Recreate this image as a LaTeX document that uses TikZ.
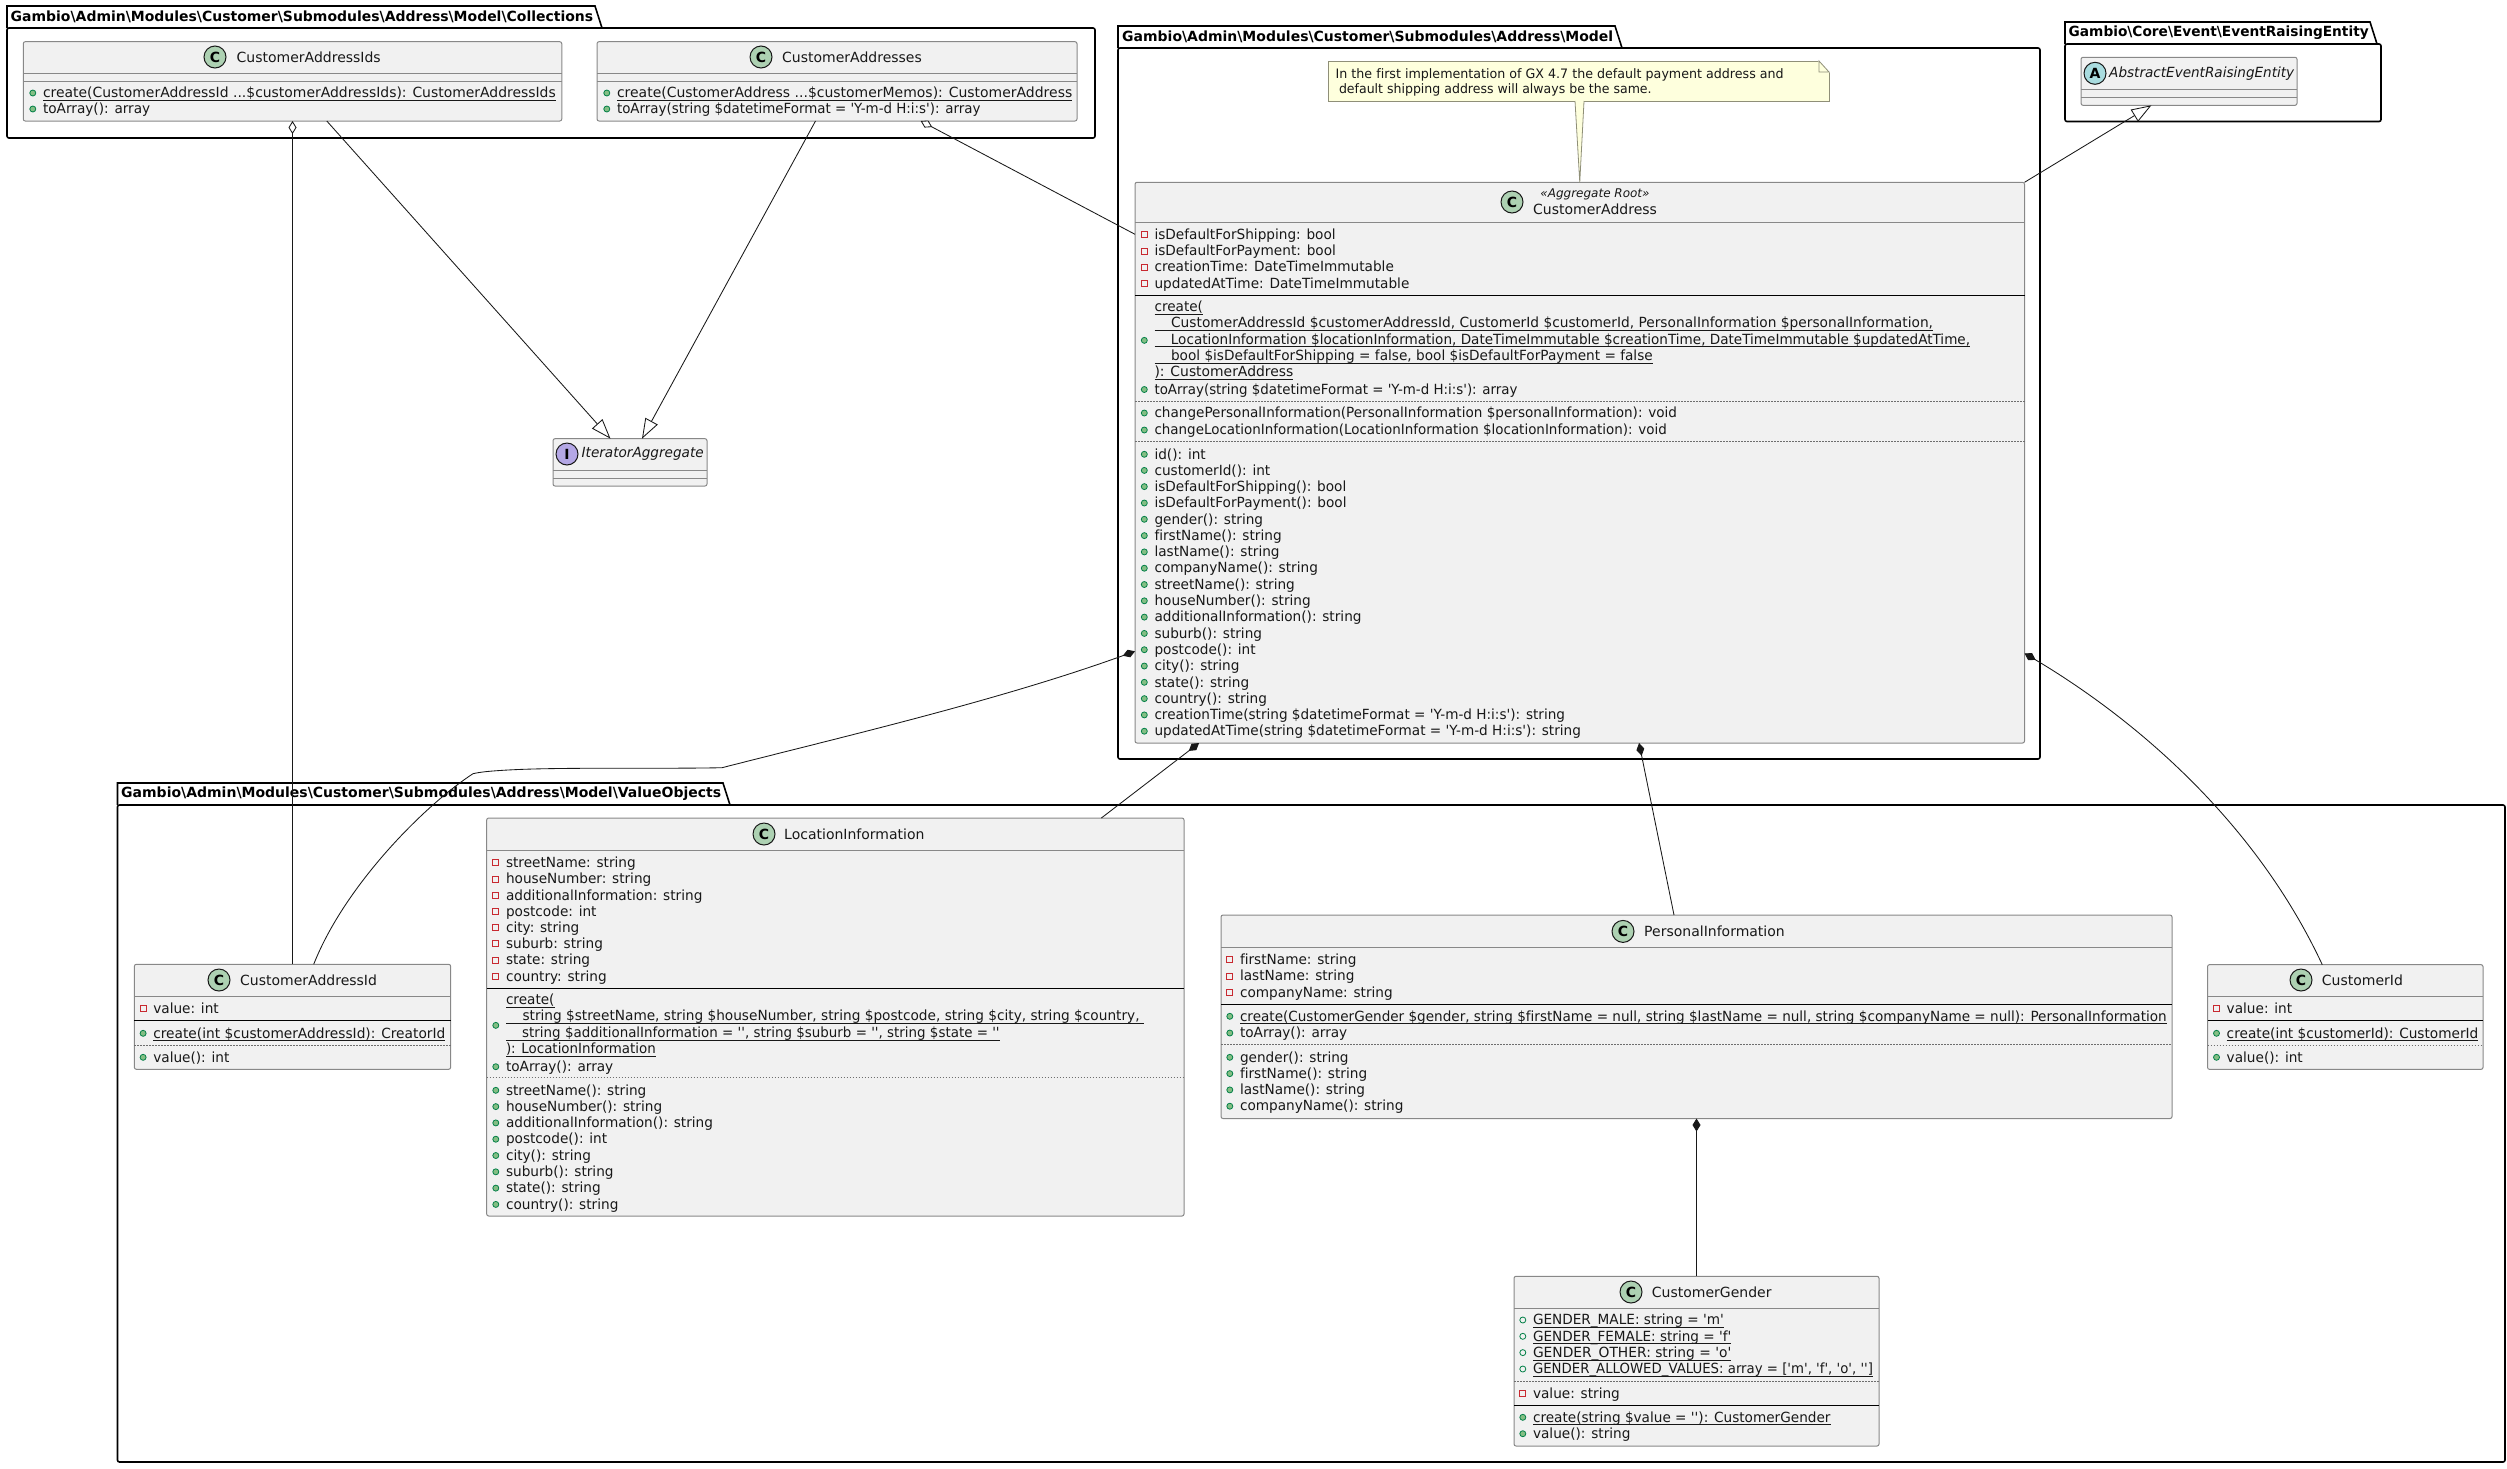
\documentclass[tikz,border=0pt]{standalone}
\usepackage{fontspec}
\usepackage{graphicx}
\usetikzlibrary{arrows.meta}
\newfontfamily\umlfont{DejaVu Sans}[Ligatures=NoCommon]
\newfontfamily\rowfont{DejaVu Sans}[Ligatures=NoCommon,FakeStretch=0.975]
\definecolor{boxfill}{HTML}{F1F1F1}
\definecolor{boxline}{HTML}{888888}
\definecolor{inkline}{HTML}{181818}
\definecolor{sepdots}{HTML}{6E6E6E}
\definecolor{notefill}{HTML}{FEFFDD}
\definecolor{noteline}{HTML}{8F8F78}
\definecolor{dotgreen}{HTML}{84BE84}
\definecolor{dotedge}{HTML}{038048}
\definecolor{privred}{HTML}{C82930}
\definecolor{iconC}{HTML}{ADD1B2}
\definecolor{iconI}{HTML}{B4A7E5}
\definecolor{iconA}{HTML}{A9DCDF}
\newsavebox\ulbox
\newcommand{\ul}[1]{\sbox\ulbox{#1}\rlap{\rule[-3.2pt]{\wd\ulbox}{0.9pt}}\usebox\ulbox}
\newcommand{\rowfit}[2]{\resizebox{#1pt}{\height}{#2}}
\newcommand{\ind}{\hspace*{16.5pt}}
\newcommand{\bs}{\textbackslash}
\tikzset{
  every node/.style={font=\umlfont\fontsize{14}{16.3}\selectfont,text=inkline},
  pkgframe/.style={draw=black,line width=1.6pt,rounded corners=2pt},
  pkgtab/.style={draw=black,line width=1.6pt},
  pkgtitle/.style={anchor=west,inner sep=0pt,font=\umlfont\bfseries\fontsize{14}{16.3}\selectfont,text=black},
  classbox/.style={draw=boxline,fill=boxfill,line width=1pt,rounded corners=2pt,inner sep=0pt,outer sep=0pt},
  hdrline/.style={draw=boxline,line width=1pt},
  splitline/.style={draw=black,line width=1pt},
  dotsep/.style={draw=sepdots,line width=0.9pt,dash pattern=on 1.5pt off 1.5pt},
  classicon/.style={circle,draw=inkline,line width=1pt,minimum size=22pt,inner sep=0pt,font=\umlfont\bfseries\fontsize{14}{16.3}\selectfont,text=black},
  classname/.style={anchor=west,inner sep=0pt},
  member/.style={anchor=west,inner sep=0pt,outer sep=0pt,text height=11.5pt,text depth=2pt,font=\rowfont\fontsize{14}{16.3}\selectfont},
  pubmark/.style={circle,draw=dotedge,fill=dotgreen,line width=0.8pt,minimum size=6pt,inner sep=0pt,label distance=6.8pt},
  pubfield/.style={circle,draw=dotedge,line width=0.8pt,minimum size=6pt,inner sep=0pt,label distance=6.8pt},
  privmark/.style={rectangle,draw=privred,line width=0.9pt,minimum size=6pt,inner sep=0pt,label distance=6.8pt},
  pubrow/.style={member,label={[pubmark]left:{}}},
  fieldrow/.style={member,label={[pubfield]left:{}}},
  privrow/.style={member,label={[privmark]left:{}}},
  longrow/.style={anchor=west,inner sep=0pt,outer sep=0pt,align=left,font=\rowfont\fontsize{14}{16.4}\selectfont,label={[pubmark]left:{}}},
  notebox/.style={draw=noteline,fill=notefill,line width=0.8pt,inner sep=0pt,outer sep=0pt},
  notetext/.style={anchor=west,inner sep=0pt,align=left,font=\umlfont\fontsize{13}{15}\selectfont},
  relline/.style={draw=inkline,line width=0.85pt},
  extends/.style={relline,-{Triangle[fill=white,length=20pt,width=14pt]}},
  aggregate/.style={relline,{Diamond[fill=white,length=13pt,width=8pt]}-},
  compose/.style={relline,{Diamond[fill=inkline,length=13pt,width=8pt]}-},
}
\begin{document}
\begin{tikzpicture}[x=1pt,y=-1pt]
\useasboundingbox (0,0) rectangle (2507,1468);
\draw[pkgtab] (7,28) -- (7,6) -- (595,6) -- (602,28);
\draw[pkgframe] (7,28) rectangle (1095,138);
\node[pkgtitle] (pkgCollections) at (10.5,17) {\rowfit{582.5}{Gambio\bs{}Admin\bs{}Modules\bs{}Customer\bs{}Submodules\bs{}Address\bs{}Model\bs{}Collections}};
\draw[pkgtab] (1118,48) -- (1118,26) -- (1615,26) -- (1622,48);
\draw[pkgframe] (1118,48) rectangle (2040,759);
\node[pkgtitle] (pkgModel) at (1122,37) {\rowfit{491}{Gambio\bs{}Admin\bs{}Modules\bs{}Customer\bs{}Submodules\bs{}Address\bs{}Model}};
\draw[pkgtab] (2065,44) -- (2065,22) -- (2370,22) -- (2377,44);
\draw[pkgframe] (2065,44) rectangle (2381,121.5);
\node[pkgtitle] (pkgEvent) at (2068.5,33) {\rowfit{300}{Gambio\bs{}Core\bs{}Event\bs{}EventRaisingEntity}};
\draw[pkgtab] (117.5,805) -- (117.5,783) -- (723,783) -- (730,805);
\draw[pkgframe] (117.5,805) rectangle (2505,1462);
\node[pkgtitle] (pkgValues) at (121,794) {\rowfit{600}{Gambio\bs{}Admin\bs{}Modules\bs{}Customer\bs{}Submodules\bs{}Address\bs{}Model\bs{}ValueObjects}};

\node[classbox,minimum width=538.5pt,minimum height=79.3pt] (addressIds) at (292.5,81.35) {};
\draw[hdrline] (addressIds.west |- 0,73) -- (addressIds.east |- 0,73);
\draw[hdrline] (addressIds.west |- 0,81) -- (addressIds.east |- 0,81);
\node[classicon,fill=iconC] (addressIdsIcon) at (215,57) {C};
\node[classname] (addressIdsName) at (236.5,57) {CustomerAddressIds};
\node[pubrow] (addressIdsCreate) at (43,93) {\rowfit{512.8}{\ul{create(CustomerAddressId ...\$customerAddressIds): CustomerAddressIds}}};
\node[pubrow] (addressIdsArray) at (43,109) {toArray(): array};

\node[classbox,minimum width=480pt,minimum height=79.3pt] (addresses) at (837,81.35) {};
\draw[hdrline] (addresses.west |- 0,73) -- (addresses.east |- 0,73);
\draw[hdrline] (addresses.west |- 0,81) -- (addresses.east |- 0,81);
\node[classicon,fill=iconC] (addressesIcon) at (761,57) {C};
\node[classname] (addressesName) at (782,57) {CustomerAddresses};
\node[pubrow] (addressesCreate) at (617,93) {\rowfit{455.3}{\ul{create(CustomerAddress ...\$customerMemos): CustomerAddress}}};
\node[pubrow] (addressesArray) at (617,109) {\rowfit{363.4}{toArray(string \$datetimeFormat = 'Y-m-d H:i:s'): array}};

\node[classbox,minimum width=154pt,minimum height=47.3pt] (iterator) at (630,462.35) {};
\draw[hdrline] (iterator.west |- 0,470) -- (iterator.east |- 0,470);
\draw[hdrline] (iterator.west |- 0,478) -- (iterator.east |- 0,478);
\node[classicon,fill=iconI] (iteratorIcon) at (567,454) {I};
\node[classname] (iteratorName) at (581.5,454) {\rowfit{122}{\itshape IteratorAggregate}};

\node[notebox,minimum width=501pt,minimum height=40pt] (note) at (1578.5,81) {};
\fill[white] (1817,60) -- (1830,60) -- (1830,73) -- cycle;
\draw[notebox] (1819,61) -- (1829,72) -- (1819,72) -- cycle;
\node[notetext] (noteText) at (1335.5,82) {\rowfit{448}{In the first implementation of GX 4.7 the default payment address and}\\\hspace*{3.3pt}\rowfit{312.6}{default shipping address will always be the same.}};

\node[classbox,minimum width=889.5pt,minimum height=560.7pt] (address) at (1579.75,462.65) {};
\fill[notefill] ([xshift=-3.5pt]note.south) -- ([xshift=5.5pt]note.south) -- (address.north) -- cycle;
\draw[noteline,line width=0.8pt] ([xshift=-3.5pt]note.south) -- (address.north) -- ([xshift=5.5pt]note.south);
\draw[hdrline] (address.west |- 0,222) -- (address.east |- 0,222);
\draw[splitline] (address.west |- 0,295.3) -- (address.east |- 0,295.3);
\draw[dotsep] (address.west |- 0,401.3) -- (address.east |- 0,401.3);
\draw[dotsep] (address.west |- 0,441.3) -- (address.east |- 0,441.3);
\node[classicon,fill=iconC] (addressIcon) at (1512,202) {C};
\node[inner sep=0pt,font=\umlfont\itshape\fontsize{12}{14}\selectfont] (addressStereo) at (1595,194) {«Aggregate Root»};
\node[classname] (addressName) at (1533,209.5) {CustomerAddress};
\node[privrow] (addressA) at (1154.5,234.5) {isDefaultForShipping: bool};
\node[privrow] (addressB) at (1154.5,251) {isDefaultForPayment: bool};
\node[privrow] (addressC) at (1154.5,267) {creationTime: DateTimeImmutable};
\node[privrow] (addressD) at (1154.5,283.5) {updatedAtTime: DateTimeImmutable};
\node[longrow] (addressCreate) at (1154.5,340.35) {\rowfit{48.5}{\ul{create(}}\\\rowfit{778.5}{\ul{\ind CustomerAddressId \$customerAddressId, CustomerId \$customerId, PersonalInformation \$personalInformation,}}\\\rowfit{815.5}{\ul{\ind LocationInformation \$locationInformation, DateTimeImmutable \$creationTime, DateTimeImmutable \$updatedAtTime,}}\\\rowfit{498.2}{\ul{\ind bool \$isDefaultForShipping = false, bool \$isDefaultForPayment = false}}\\\rowfit{138.8}{\ul{): CustomerAddress}}};
\node[pubrow] (addressArray) at (1154.5,389.5) {\rowfit{363}{toArray(string \$datetimeFormat = 'Y-m-d H:i:s'): array}};
\node[pubrow] (addressE) at (1154.5,413) {\rowfit{522.5}{changePersonalInformation(PersonalInformation \$personalInformation): void}};
\node[pubrow] (addressF) at (1154.5,430) {\rowfit{512.2}{changeLocationInformation(LocationInformation \$locationInformation): void}};
\node[pubrow] (addressG) at (1154.5,454.3) {id(): int};
\node[pubrow] (addressH) at (1154.5,470.4) {customerId(): int};
\node[pubrow] (addressI) at (1154.5,486.6) {isDefaultForShipping(): bool};
\node[pubrow] (addressJ) at (1154.5,503) {isDefaultForPayment(): bool};
\node[pubrow] (addressK) at (1154.5,519.3) {gender(): string};
\node[pubrow] (addressL) at (1154.5,535.6) {firstName(): string};
\node[pubrow] (addressM) at (1154.5,551.9) {lastName(): string};
\node[pubrow] (addressN) at (1154.5,568.2) {companyName(): string};
\node[pubrow] (addressO) at (1154.5,584.5) {streetName(): string};
\node[pubrow] (addressP) at (1154.5,600.8) {houseNumber(): string};
\node[pubrow] (addressQ) at (1154.5,617.1) {additionalInformation(): string};
\node[pubrow] (addressR) at (1154.5,633.4) {suburb(): string};
\node[pubrow] (addressS) at (1154.5,649.7) {postcode(): int};
\node[pubrow] (addressT) at (1154.5,666) {city(): string};
\node[pubrow] (addressU) at (1154.5,682.3) {state(): string};
\node[pubrow] (addressV) at (1154.5,698.6) {country(): string};
\node[pubrow] (addressW) at (1154.5,714.9) {\rowfit{410.5}{creationTime(string \$datetimeFormat = 'Y-m-d H:i:s'): string}};
\node[pubrow] (addressX) at (1154.5,731.2) {\rowfit{426.4}{updatedAtTime(string \$datetimeFormat = 'Y-m-d H:i:s'): string}};

\node[classbox,minimum width=216pt,minimum height=48pt] (raising) at (2189,81.3) {};
\draw[hdrline] (raising.west |- 0,89.3) -- (raising.east |- 0,89.3);
\draw[hdrline] (raising.west |- 0,97.3) -- (raising.east |- 0,97.3);
\node[classicon,fill=iconA] (raisingIcon) at (2095,73.3) {A};
\node[classname] (raisingName) at (2109,73.3) {\rowfit{185}{\itshape AbstractEventRaisingEntity}};

\node[classbox,minimum width=316.3pt,minimum height=105pt] (addressId) at (292.5,1016.8) {};
\draw[hdrline] (addressId.west |- 0,996.7) -- (addressId.east |- 0,996.7);
\draw[splitline] (addressId.west |- 0,1020.3) -- (addressId.east |- 0,1020.3);
\draw[dotsep] (addressId.west |- 0,1045.3) -- (addressId.east |- 0,1045.3);
\node[classicon,fill=iconC] (addressIdIcon) at (219,980) {C};
\node[classname] (addressIdName) at (240,980) {CustomerAddressId};
\node[privrow] (addressIdValue) at (153.3,1008.3) {value: int};
\node[pubrow] (addressIdCreate) at (153.3,1033.3) {\rowfit{292}{\ul{create(int \$customerAddressId): CreatorId}}};
\node[pubrow] (addressIdGet) at (153.3,1057.3) {value(): int};

\node[classbox,minimum width=697.3pt,minimum height=398pt] (location) at (835.35,1017) {};
\draw[hdrline] (location.west |- 0,850.7) -- (location.east |- 0,850.7);
\draw[splitline] (location.west |- 0,988.3) -- (location.east |- 0,988.3);
\draw[dotsep] (location.west |- 0,1077.3) -- (location.east |- 0,1077.3);
\node[classicon,fill=iconC] (locationIcon) at (764,834) {C};
\node[classname] (locationName) at (784,834) {LocationInformation};
\node[privrow] (locationA) at (506,862.7) {streetName: string};
\node[privrow] (locationB) at (506,879) {houseNumber: string};
\node[privrow] (locationC) at (506,895.3) {additionalInformation: string};
\node[privrow] (locationD) at (506,911.3) {postcode: int};
\node[privrow] (locationE) at (506,927.6) {city: string};
\node[privrow] (locationF) at (506,943.9) {suburb: string};
\node[privrow] (locationG) at (506,960.2) {state: string};
\node[privrow] (locationH) at (506,976.5) {country: string};
\node[longrow] (locationCreate) at (506,1025.35) {\rowfit{48.5}{\ul{create(}}\\\rowfit{638}{\ul{\ind string \$streetName, string \$houseNumber, string \$postcode, string \$city, string \$country,\hspace*{4.4pt}}}\\\rowfit{493.6}{\ul{\ind string \$additionalInformation = '', string \$suburb = '', string \$state = ''}}\\\rowfit{149.8}{\ul{): LocationInformation}}};
\node[pubrow] (locationArray) at (506,1066.7) {toArray(): array};
\node[pubrow] (locationI) at (506,1090.3) {streetName(): string};
\node[pubrow] (locationJ) at (506,1106.6) {houseNumber(): string};
\node[pubrow] (locationK) at (506,1122.9) {additionalInformation(): string};
\node[pubrow] (locationL) at (506,1139.2) {postcode(): int};
\node[pubrow] (locationM) at (506,1155.5) {city(): string};
\node[pubrow] (locationN) at (506,1171.8) {suburb(): string};
\node[pubrow] (locationO) at (506,1188.1) {state(): string};
\node[pubrow] (locationP) at (506,1204.4) {country(): string};

\node[classbox,minimum width=951pt,minimum height=203.5pt] (personal) at (1696.5,1016.75) {};
\draw[hdrline] (personal.west |- 0,947.5) -- (personal.east |- 0,947.5);
\draw[splitline] (personal.west |- 0,1004) -- (personal.east |- 0,1004);
\draw[dotsep] (personal.west |- 0,1044.5) -- (personal.east |- 0,1044.5);
\node[classicon,fill=iconC] (personalIcon) at (1623,931.4) {C};
\node[classname] (personalName) at (1644,931.4) {PersonalInformation};
\node[privrow] (personalA) at (1240,959.7) {firstName: string};
\node[privrow] (personalB) at (1240,976) {lastName: string};
\node[privrow] (personalC) at (1240,992.3) {companyName: string};
\node[pubrow] (personalCreate) at (1240,1016.3) {\rowfit{926.7}{\ul{create(CustomerGender \$gender, string \$firstName = null, string \$lastName = null, string \$companyName = null): PersonalInformation}}};
\node[pubrow] (personalArray) at (1240,1033) {toArray(): array};
\node[pubrow] (personalD) at (1240,1057.3) {gender(): string};
\node[pubrow] (personalE) at (1240,1073.6) {firstName(): string};
\node[pubrow] (personalF) at (1240,1089.9) {lastName(): string};
\node[pubrow] (personalG) at (1240,1106.2) {companyName(): string};

\node[classbox,minimum width=275.5pt,minimum height=104.7pt] (customerId) at (2345.25,1017) {};
\draw[hdrline] (customerId.west |- 0,996.7) -- (customerId.east |- 0,996.7);
\draw[splitline] (customerId.west |- 0,1020.3) -- (customerId.east |- 0,1020.3);
\draw[dotsep] (customerId.west |- 0,1045.3) -- (customerId.east |- 0,1045.3);
\node[classicon,fill=iconC] (customerIdIcon) at (2301,980) {C};
\node[classname] (customerIdName) at (2321.7,980) {CustomerId};
\node[privrow] (customerIdValue) at (2226.7,1008.3) {value: int};
\node[pubrow] (customerIdCreate) at (2226.7,1033.3) {\rowfit{251.7}{\ul{create(int \$customerId): CustomerId}}};
\node[pubrow] (customerIdGet) at (2226.7,1057.3) {value(): int};

\node[classbox,minimum width=365pt,minimum height=169.7pt] (gender) at (1696.5,1361.15) {};
\draw[hdrline] (gender.west |- 0,1308) -- (gender.east |- 0,1308);
\draw[dotsep] (gender.west |- 0,1381.3) -- (gender.east |- 0,1381.3);
\draw[splitline] (gender.west |- 0,1405.7) -- (gender.east |- 0,1405.7);
\node[classicon,fill=iconC] (genderIcon) at (1631,1292) {C};
\node[classname] (genderName) at (1651.7,1292) {CustomerGender};
\node[fieldrow] (genderA) at (1533,1320) {\rowfit{190.8}{\ul{GENDER\_MALE: string = 'm'}}};
\node[fieldrow] (genderB) at (1533,1336.3) {\rowfit{198.3}{\ul{GENDER\_FEMALE: string = 'f'}}};
\node[fieldrow] (genderC) at (1533,1352.6) {\rowfit{198.3}{\ul{GENDER\_OTHER: string = 'o'}}};
\node[fieldrow] (genderD) at (1533,1369) {\rowfit{340}{\ul{GENDER\_ALLOWED\_VALUES: array = ['m', 'f', 'o', '']}}};
\node[privrow] (genderValue) at (1533,1393.3) {value: string};
\node[pubrow] (genderCreate) at (1533,1417.3) {\rowfit{297.5}{\ul{create(string \$value = ''): CustomerGender}}};
\node[pubrow] (genderGet) at (1533,1433.7) {value(): string};

\draw[extends] ([xshift=34.3pt]addressIds.south) -- ([xshift=-19.5pt]iterator.north);
\draw[extends] ([xshift=-21.5pt]addresses.south) -- ([xshift=12pt]iterator.north);
\draw[aggregate] (addressIds.south) -- (addressId.north);
\draw[aggregate] ([xshift=83.7pt]addresses.south) -- ([yshift=-52pt]address.north west);
\draw[extends] (address.north east) -- ([xshift=-37.6pt]raising.south);
\draw[compose] ([yshift=-469pt]address.north west) .. controls (1000,700) and (850,735) .. (722,767.7) .. controls (660,769) and (560,767) .. (508,770) .. controls (490,771) and (480,772) .. (473,773.7) .. controls (425,805) and (345,885) .. ([xshift=21.2pt]addressId.north);
\draw[compose] ([xshift=-380.7pt]address.south) -- ([xshift=266pt]location.north);
\draw[compose] ([xshift=59.3pt]address.south) -- ([xshift=-22.5pt]personal.north);
\draw[compose] ([yshift=-471pt]address.north east) .. controls (2120,710) and (2250,810) .. ([xshift=-23pt]customerId.north);
\draw[compose] (personal.south) -- (gender.north);
\end{tikzpicture}
\end{document}
